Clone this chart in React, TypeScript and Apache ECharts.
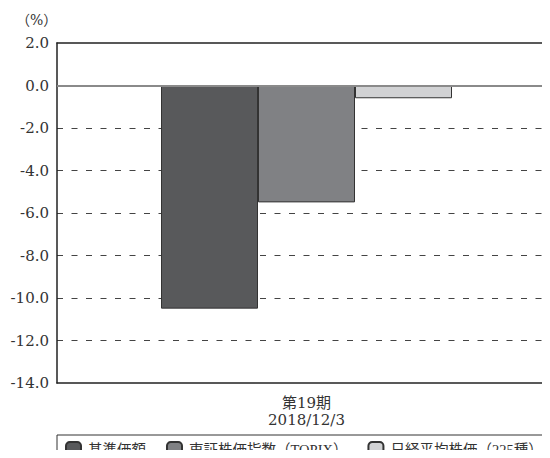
import React, { useEffect, useRef } from "react";
import * as echarts from "echarts";

const categories = ["第19期\n2018/12/3"];
const seriesNames = ["基準価額", "東証株価指数（TOPIX）", "日経平均株価（225種）"];
const fundValues = [-10.5];
const topixValues = [-5.5];
const nikkeiValues = [-0.6];
const seriesColors = ["#58595b", "#808184", "#d1d2d4"];

const FONT = "'DejaVu Serif', 'Noto Sans CJK JP', serif";
const LEGEND_FONT = "'Liberation Serif', 'Noto Sans CJK JP', serif";

export default function App() {
  const ref = useRef<HTMLDivElement>(null);
  useEffect(() => {
    if (!ref.current) return;
    const chart = echarts.init(ref.current, null, { renderer: "svg" });
    const values = [fundValues, topixValues, nikkeiValues];
    chart.setOption({
      animation: false,
      textStyle: { fontFamily: FONT },
      grid: {
        left: 57,
        top: 43,
        right: -6,
        height: 340,
        containLabel: false,
        outerBoundsMode: "none",
      },
      graphic: [
        {
          type: "text",
          left: 16,
          top: 13,
          style: { text: "（%）", fontSize: 14, fill: "#333", fontFamily: FONT },
        },
      ],
      legend: {
        left: 57,
        top: 435,
        width: 500,
        itemWidth: 15,
        itemHeight: 15,
        itemGap: 20,
        borderColor: "#333",
        borderWidth: 1,
        padding: [6, 0, 12, 8],
        textStyle: { fontSize: 14.5, color: "#333", fontFamily: LEGEND_FONT, padding: [0, 0, 0, 2] },
        data: seriesNames,
      },
      xAxis: [
        {
          type: "category",
          data: categories,
          position: "bottom",
          axisLine: { onZero: false, lineStyle: { color: "#222", width: 1.5 } },
          axisTick: { show: false },
          axisLabel: { fontSize: 15, color: "#333", lineHeight: 17, margin: 11, fontFamily: FONT },
        },
        {
          type: "category",
          data: categories,
          position: "top",
          axisLine: { onZero: false, lineStyle: { color: "#222", width: 1.5 } },
          axisTick: { show: false },
          axisLabel: { show: false },
        },
      ],
      yAxis: {
        type: "value",
        min: -14,
        max: 2,
        interval: 2,
        axisLine: { show: true, lineStyle: { color: "#222", width: 1.5 } },
        axisTick: { show: false },
        axisLabel: {
          fontSize: 15,
          color: "#333",
          margin: 8,
          fontFamily: FONT,
          formatter: (v: number) => v.toFixed(1),
        },
        splitLine: {
          show: true,
          showMinLine: false,
          showMaxLine: false,
          lineStyle: { color: "#444", type: [6, 8.5], width: 1.2 },
        },
      },
      series: seriesNames.map((name, i) => ({
        name,
        type: "bar",
        data: values[i],
        barWidth: 97,
        barGap: "0%",
        itemStyle: { color: seriesColors[i], borderColor: "#333", borderWidth: 1 },
        ...(i === 0
          ? {
              markLine: {
                silent: true,
                symbol: "none",
                label: { show: false },
                lineStyle: { color: "#8a8a8a", type: "solid", width: 2 },
                data: [{ yAxis: 0 }],
              },
            }
          : {}),
      })),
    });
    return () => chart.dispose();
  }, []);
  return <div ref={ref} style={{ width: 550, height: 458, margin: -8 }} />;
}
